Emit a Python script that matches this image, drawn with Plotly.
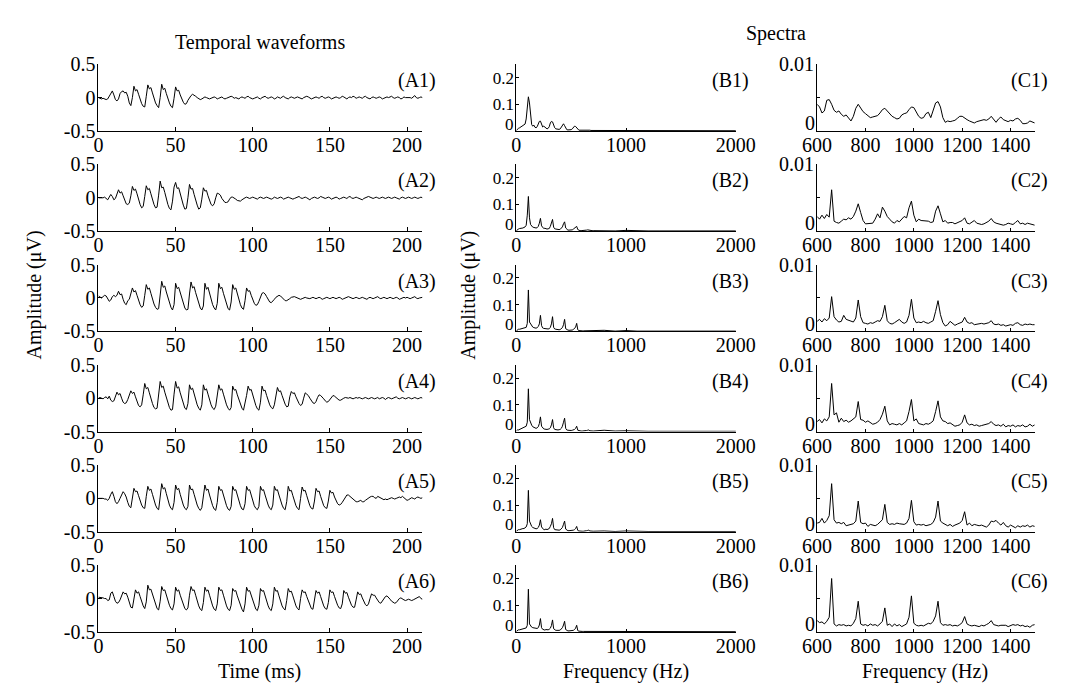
import numpy as np
import plotly.graph_objects as go

# ---------------- data ----------------
SAMPLE_MS = 1.0  # waveform sampling step (ms), t = 0..210

A1 = [0.00, -0.01, -0.02, -0.01, -0.02, -0.03, -0.02, 0.02, 0.08, 0.10,
      0.04, -0.03, -0.05, -0.02, 0.06, 0.09, 0.10, 0.07, 0.08, 0.02,
      -0.08, -0.12, 0.00, 0.17, 0.10, 0.12, 0.05, -0.03, -0.09, -0.13,
      -0.14, 0.02, 0.19, 0.13, 0.15, 0.07, -0.02, -0.08, -0.12, -0.15,
      0.00, 0.20, 0.12, 0.14, 0.06, -0.02, -0.08, -0.13, -0.15, -0.01,
      0.16, 0.10, 0.11, 0.04, -0.02, -0.07, -0.10, -0.09, -0.04, 0.00,
      0.03, 0.05, 0.04, 0.02, 0.00, -0.01, -0.03, -0.02, 0.00, 0.01,
      0.00, -0.01, -0.02, -0.01, 0.00, 0.01, 0.00, -0.02, -0.01, 0.00,
      0.01, -0.01, -0.02, -0.01, 0.00, 0.01, 0.02, 0.01, -0.01, 0.00,
      -0.01, -0.02, 0.00, 0.01, 0.00, -0.01, 0.01, 0.02, 0.00, -0.01,
      -0.02, -0.01, 0.00, 0.01, -0.01, -0.02, 0.00, 0.01, 0.02, 0.00,
      -0.01, 0.00, 0.01, 0.00, -0.02, -0.01, 0.01, 0.00, -0.01, 0.01,
      0.02, 0.00, -0.01, -0.02, 0.00, 0.01, 0.00, -0.01, 0.00, 0.01,
      0.00, -0.01, -0.02, 0.00, 0.01, 0.02, 0.01, -0.01, -0.02, -0.01,
      0.00, 0.01, 0.00, -0.01, 0.01, 0.02, 0.00, -0.01, 0.00, 0.01,
      0.00, -0.02, -0.01, 0.00, 0.01, 0.00, -0.01, 0.00, 0.02, 0.01,
      -0.01, -0.02, 0.00, 0.01, 0.00, 0.02, 0.01, -0.01, 0.00, 0.01,
      0.00, -0.01, 0.01, 0.02, 0.00, -0.01, -0.02, 0.00, 0.01, 0.00,
      -0.01, 0.00, 0.01, 0.00, -0.02, -0.01, 0.00, 0.01, 0.00, 0.01,
      0.02, 0.00, -0.01, 0.00, 0.01, 0.00, -0.02, -0.01, 0.01, 0.00,
      0.00, 0.01, 0.00, -0.01, 0.01, 0.03, 0.00, -0.01, 0.00, 0.01,
      0.00]

A2 = [0.00, 0.00, -0.01, 0.00, 0.01, -0.01, -0.03, 0.01, 0.05, 0.02,
      -0.03, -0.01, 0.06, 0.12, 0.07, 0.09, 0.03, -0.04, -0.09, -0.10,
      -0.08, 0.03, 0.17, 0.11, 0.13, 0.06, -0.03, -0.10, -0.15, -0.13,
      0.02, 0.18, 0.12, 0.14, 0.06, -0.03, -0.10, -0.15, -0.14, 0.04,
      0.25, 0.15, 0.16, 0.08, -0.02, -0.10, -0.16, -0.18, -0.05, 0.16,
      0.23, 0.14, 0.15, 0.06, -0.04, -0.11, -0.17, -0.16, 0.00, 0.20,
      0.13, 0.14, 0.05, -0.04, -0.11, -0.17, -0.15, -0.02, 0.15, 0.10,
      0.11, 0.03, -0.05, -0.10, -0.12, -0.09, 0.00, 0.07, 0.06, 0.04,
      -0.01, -0.05, -0.07, -0.07, -0.06, -0.02, 0.01, 0.01, 0.00, -0.02,
      -0.04, -0.05, -0.05, -0.03, -0.01, 0.00, 0.01, 0.00, -0.01, 0.00,
      0.01, 0.00, -0.01, -0.02, 0.00, 0.01, 0.00, -0.01, 0.00, 0.01,
      0.00, -0.01, -0.02, -0.01, 0.01, 0.00, -0.01, 0.00, 0.01, 0.00,
      -0.02, -0.01, 0.00, 0.01, 0.00, -0.01, -0.02, -0.01, 0.00, 0.01,
      0.02, 0.00, -0.01, 0.00, 0.01, 0.00, -0.02, -0.03, -0.01, 0.00,
      0.01, 0.00, -0.01, 0.00, 0.02, 0.01, 0.00, -0.01, 0.00, 0.01,
      0.00, -0.02, -0.01, 0.00, 0.01, 0.00, -0.02, -0.01, 0.00, 0.01,
      0.00, -0.01, 0.01, 0.02, 0.00, -0.01, 0.00, 0.01, 0.00, -0.01,
      -0.02, -0.03, -0.01, 0.00, 0.01, 0.02, 0.01, 0.00, -0.01, 0.00,
      0.01, 0.00, -0.01, 0.00, 0.01, 0.00, -0.01, 0.00, 0.01, 0.00,
      -0.01, 0.00, 0.01, 0.00, -0.01, -0.02, 0.00, 0.01, 0.00, -0.01,
      0.00, 0.01, 0.00, -0.01, 0.00, 0.01, 0.00, -0.01, 0.00, 0.01,
      0.00]

A3 = [0.03, 0.01, 0.00, 0.02, 0.04, 0.03, -0.02, -0.05, -0.03, 0.02,
      0.04, 0.02, 0.04, 0.10, 0.05, 0.06, -0.02, -0.08, -0.10, -0.04,
      -0.02, 0.06, 0.15, 0.09, 0.11, 0.04, -0.04, -0.10, -0.14, -0.12,
      0.04, 0.20, 0.13, 0.15, 0.07, -0.02, -0.09, -0.14, -0.17, -0.16,
      0.05, 0.25, 0.16, 0.18, 0.09, 0.00, -0.08, -0.14, -0.18, -0.10,
      0.22, 0.14, 0.16, 0.08, -0.01, -0.09, -0.15, -0.18, -0.17, 0.06,
      0.24, 0.15, 0.17, 0.08, -0.01, -0.09, -0.15, -0.18, -0.12, 0.22,
      0.13, 0.16, 0.07, -0.02, -0.10, -0.15, -0.18, -0.08, 0.22, 0.14,
      0.16, 0.07, -0.02, -0.10, -0.16, -0.18, -0.06, 0.20, 0.13, 0.15,
      0.06, -0.03, -0.10, -0.15, -0.17, -0.04, 0.15, 0.10, 0.11, 0.04,
      -0.03, -0.08, -0.11, -0.10, -0.05, 0.02, 0.07, 0.08, 0.06, 0.02,
      -0.03, -0.06, -0.07, -0.05, -0.02, 0.01, 0.03, 0.04, 0.03, 0.01,
      -0.02, -0.04, -0.04, -0.03, -0.01, 0.01, 0.02, 0.02, 0.01, 0.00,
      -0.02, -0.02, -0.01, 0.00, 0.01, 0.00, -0.01, -0.01, 0.00, 0.01,
      0.00, -0.01, 0.00, 0.01, 0.00, -0.02, -0.01, 0.00, 0.01, 0.00,
      -0.01, 0.00, 0.01, 0.00, -0.01, 0.00, 0.01, 0.00, -0.02, -0.01,
      0.00, 0.01, 0.02, 0.01, 0.00, -0.01, 0.00, 0.01, 0.00, -0.01,
      0.00, 0.01, 0.00, -0.01, -0.02, 0.00, 0.01, 0.00, -0.01, 0.00,
      0.01, 0.02, 0.00, -0.01, 0.00, 0.01, 0.00, -0.01, 0.00, 0.01,
      0.00, -0.01, 0.00, 0.01, 0.00, -0.02, -0.01, 0.00, 0.01, 0.00,
      0.01, 0.00, -0.01, 0.00, 0.01, 0.02, 0.00, -0.01, 0.00, 0.01,
      0.01]

A4 = [0.00, 0.01, 0.00, -0.01, 0.01, 0.02, -0.01, 0.03, -0.03, -0.05,
      -0.04, 0.03, 0.09, 0.05, 0.07, 0.00, -0.06, -0.08, -0.07, -0.02,
      0.06, 0.11, 0.07, 0.09, 0.02, -0.05, -0.11, -0.13, -0.10, 0.05,
      0.22, 0.14, 0.16, 0.08, -0.01, -0.08, -0.14, -0.16, -0.15, 0.04,
      0.25, 0.16, 0.18, 0.09, 0.00, -0.08, -0.14, -0.18, -0.17, 0.06,
      0.25, 0.15, 0.17, 0.08, -0.01, -0.09, -0.15, -0.17, -0.08, 0.20,
      0.13, 0.15, 0.06, -0.03, -0.10, -0.15, -0.18, -0.10, 0.20, 0.12,
      0.14, 0.06, -0.03, -0.10, -0.15, -0.17, -0.12, 0.04, 0.20, 0.12,
      0.14, 0.06, -0.03, -0.10, -0.15, -0.18, -0.14, 0.18, 0.12, 0.13,
      0.05, -0.03, -0.10, -0.15, -0.18, -0.09, 0.04, 0.18, 0.12, 0.13,
      0.05, -0.04, -0.11, -0.16, -0.18, -0.06, 0.18, 0.11, 0.12, 0.04,
      -0.04, -0.10, -0.14, -0.16, -0.10, 0.05, 0.16, 0.10, 0.11, 0.04,
      -0.03, -0.09, -0.13, -0.12, 0.02, 0.10, 0.07, 0.08, 0.02, -0.04,
      -0.08, -0.11, -0.09, 0.00, 0.08, 0.06, 0.04, 0.00, -0.04, -0.07,
      -0.08, -0.05, 0.01, 0.05, 0.04, 0.02, -0.01, -0.04, -0.06, -0.05,
      -0.02, 0.02, 0.04, 0.03, 0.01, -0.02, -0.03, -0.03, -0.01, 0.00,
      0.01, 0.00, 0.00, 0.01, 0.00, -0.01, 0.00, 0.01, 0.00, 0.01,
      0.00, -0.01, 0.00, 0.01, 0.00, -0.01, 0.00, 0.01, 0.00, -0.01,
      0.00, 0.01, -0.01, 0.00, 0.01, 0.00, -0.02, 0.00, 0.01, 0.00,
      -0.01, 0.00, 0.01, 0.02, 0.00, -0.01, 0.00, 0.01, 0.00, -0.01,
      0.00, 0.01, 0.00, -0.01, 0.00, 0.01, 0.00, -0.01, 0.00, 0.01,
      0.00]

A5 = [0.00, 0.00, 0.01, 0.00, -0.01, -0.01, -0.03, 0.00, 0.06, 0.10,
      0.03, -0.05, -0.08, -0.05, 0.00, 0.06, 0.10, 0.07, 0.02, -0.06,
      -0.12, -0.14, 0.00, 0.15, 0.10, 0.11, 0.04, -0.04, -0.10, -0.14,
      -0.15, 0.03, 0.18, 0.12, 0.14, 0.06, -0.03, -0.10, -0.15, -0.17,
      0.02, 0.22, 0.14, 0.16, 0.07, -0.02, -0.10, -0.15, -0.17, -0.06,
      0.20, 0.13, 0.15, 0.06, -0.03, -0.10, -0.15, -0.17, -0.12, 0.20,
      0.13, 0.14, 0.06, -0.03, -0.10, -0.15, -0.18, -0.14, 0.05, 0.20,
      0.12, 0.14, 0.05, -0.04, -0.11, -0.16, -0.18, -0.06, 0.18, 0.12,
      0.13, 0.05, -0.04, -0.11, -0.16, -0.18, -0.12, 0.18, 0.12, 0.13,
      0.05, -0.04, -0.11, -0.16, -0.17, -0.08, 0.18, 0.12, 0.13, 0.05,
      -0.04, -0.11, -0.15, -0.17, -0.12, 0.18, 0.12, 0.13, 0.05, -0.04,
      -0.10, -0.15, -0.17, -0.10, 0.18, 0.12, 0.13, 0.05, -0.04, -0.10,
      -0.15, -0.17, -0.05, 0.18, 0.11, 0.12, 0.04, -0.04, -0.11, -0.15,
      -0.17, 0.00, 0.17, 0.11, 0.12, 0.04, -0.04, -0.11, -0.15, -0.16,
      -0.04, 0.15, 0.10, 0.11, 0.03, -0.05, -0.11, -0.14, -0.15, -0.04,
      0.12, 0.08, 0.09, 0.02, -0.04, -0.08, -0.10, -0.09, -0.06, -0.02,
      0.02, 0.05, 0.05, 0.03, 0.00, -0.02, -0.04, -0.05, -0.05, -0.04,
      -0.03, -0.05, -0.05, -0.03, -0.01, 0.01, 0.02, 0.03, 0.03, 0.01,
      0.00, 0.03, 0.02, 0.00, -0.01, -0.02, -0.01, -0.02, -0.01, 0.00,
      0.01, 0.00, -0.01, 0.00, 0.01, 0.02, 0.01, 0.03, 0.01, -0.01,
      -0.03, -0.02, 0.00, 0.01, 0.00, -0.01, 0.01, 0.02, 0.01, 0.00,
      0.01]

A6 = [0.02, 0.02, 0.01, 0.01, 0.00, 0.00, -0.03, -0.02, 0.08, 0.10,
      0.03, -0.04, -0.07, -0.06, -0.02, 0.05, 0.10, 0.07, 0.08, 0.02,
      -0.06, -0.13, -0.14, 0.00, 0.13, 0.08, 0.10, 0.03, -0.05, -0.11,
      -0.15, -0.05, 0.20, 0.13, 0.14, 0.06, -0.03, -0.10, -0.15, -0.17,
      -0.04, 0.18, 0.12, 0.13, 0.05, -0.03, -0.10, -0.15, -0.17, -0.08,
      0.17, 0.11, 0.13, 0.05, -0.03, -0.10, -0.15, -0.17, -0.14, 0.05,
      0.18, 0.12, 0.13, 0.05, -0.04, -0.11, -0.16, -0.18, -0.06, 0.17,
      0.11, 0.13, 0.05, -0.04, -0.11, -0.16, -0.18, -0.08, 0.17, 0.12,
      0.13, 0.05, -0.04, -0.11, -0.16, -0.18, -0.10, 0.15, 0.11, 0.12,
      0.04, -0.04, -0.11, -0.16, -0.20, -0.08, 0.17, 0.11, 0.12, 0.04,
      -0.04, -0.11, -0.16, -0.18, -0.10, 0.15, 0.11, 0.12, 0.04, -0.04,
      -0.11, -0.16, -0.18, -0.08, 0.17, 0.11, 0.12, 0.04, -0.04, -0.11,
      -0.15, -0.17, -0.03, 0.15, 0.10, 0.11, 0.04, -0.04, -0.11, -0.15,
      -0.17, 0.00, 0.13, 0.09, 0.10, 0.03, -0.04, -0.11, -0.15, -0.16,
      -0.04, 0.12, 0.08, 0.10, 0.03, -0.05, -0.11, -0.15, -0.16, -0.06,
      0.13, 0.09, 0.10, 0.03, -0.05, -0.10, -0.14, -0.15, -0.08, 0.12,
      0.08, 0.09, 0.02, -0.05, -0.10, -0.13, -0.13, -0.02, 0.10, 0.06,
      0.07, 0.01, -0.05, -0.09, -0.11, -0.08, 0.00, 0.07, 0.05, 0.05,
      0.01, -0.03, -0.06, -0.07, -0.04, 0.00, 0.03, 0.04, 0.02, -0.01,
      -0.04, -0.06, -0.07, -0.06, -0.03, 0.00, 0.01, -0.01, -0.02, -0.03,
      -0.02, -0.01, -0.02, -0.03, -0.02, -0.01, 0.00, 0.02, 0.03, 0.00,
      -0.01]

# Spectra B: 0..690 Hz every 10 Hz, then 700..2000 Hz every 100 Hz
B_FREQ = list(range(0, 700, 10)) + list(range(700, 2001, 100))

B1 = [0.002, 0.008, 0.010, 0.012, 0.015, 0.018, 0.020, 0.022, 0.026, 0.045,
      0.100, 0.128, 0.105, 0.055, 0.024, 0.018, 0.022, 0.014, 0.012, 0.016,
      0.026, 0.036, 0.037, 0.028, 0.015, 0.018, 0.014, 0.010, 0.008, 0.010,
      0.016, 0.030, 0.036, 0.034, 0.022, 0.012, 0.008, 0.007, 0.006, 0.006,
      0.008, 0.014, 0.024, 0.027, 0.020, 0.010, 0.005, 0.004, 0.004, 0.004,
      0.005, 0.008, 0.014, 0.018, 0.017, 0.011, 0.005, 0.003, 0.003, 0.003,
      0.003, 0.004, 0.004, 0.005, 0.004, 0.003, 0.003, 0.003, 0.002, 0.002,
      0.002, 0.002, 0.001, 0.001, 0.001, 0.001, 0.001, 0.001, 0.001, 0.001, 0.001, 0.001, 0.001, 0.001]

B2 = [0.002, 0.006, 0.008, 0.010, 0.010, 0.012, 0.012, 0.014, 0.016, 0.022,
      0.060, 0.130, 0.050, 0.025, 0.018, 0.015, 0.014, 0.012, 0.012, 0.013,
      0.018, 0.030, 0.048, 0.020, 0.012, 0.010, 0.011, 0.009, 0.008, 0.009,
      0.010, 0.018, 0.030, 0.044, 0.015, 0.009, 0.008, 0.007, 0.006, 0.006,
      0.007, 0.010, 0.016, 0.028, 0.035, 0.012, 0.006, 0.004, 0.004, 0.004,
      0.004, 0.005, 0.008, 0.012, 0.015, 0.018, 0.006, 0.003, 0.002, 0.002,
      0.002, 0.002, 0.003, 0.003, 0.004, 0.005, 0.004, 0.002, 0.002, 0.002,
      0.002, 0.001, 0.001, 0.003, 0.001, 0.001, 0.001, 0.001, 0.001, 0.001, 0.001, 0.001, 0.001, 0.001]

B3 = [0.002, 0.006, 0.008, 0.008, 0.009, 0.010, 0.010, 0.012, 0.012, 0.015,
      0.030, 0.155, 0.035, 0.028, 0.020, 0.016, 0.014, 0.012, 0.012, 0.014,
      0.018, 0.028, 0.060, 0.022, 0.013, 0.011, 0.010, 0.009, 0.008, 0.009,
      0.010, 0.015, 0.028, 0.055, 0.015, 0.009, 0.008, 0.007, 0.006, 0.006,
      0.007, 0.009, 0.014, 0.025, 0.045, 0.010, 0.006, 0.005, 0.004, 0.004,
      0.004, 0.005, 0.007, 0.010, 0.016, 0.030, 0.006, 0.003, 0.002, 0.002,
      0.002, 0.002, 0.002, 0.002, 0.003, 0.003, 0.003, 0.002, 0.002, 0.002,
      0.002, 0.004, 0.001, 0.003, 0.001, 0.001, 0.001, 0.001, 0.001, 0.001, 0.001, 0.001, 0.001, 0.001]

B4 = [0.002, 0.006, 0.006, 0.008, 0.010, 0.012, 0.012, 0.014, 0.016, 0.020,
      0.035, 0.160, 0.045, 0.032, 0.024, 0.018, 0.015, 0.013, 0.012, 0.014,
      0.018, 0.030, 0.055, 0.020, 0.012, 0.010, 0.009, 0.008, 0.008, 0.009,
      0.010, 0.014, 0.025, 0.045, 0.014, 0.008, 0.007, 0.006, 0.006, 0.007,
      0.008, 0.012, 0.020, 0.035, 0.050, 0.012, 0.006, 0.005, 0.004, 0.004,
      0.004, 0.005, 0.006, 0.008, 0.012, 0.020, 0.005, 0.003, 0.002, 0.002,
      0.002, 0.002, 0.002, 0.003, 0.004, 0.005, 0.006, 0.003, 0.002, 0.002,
      0.002, 0.005, 0.002, 0.003, 0.001, 0.001, 0.001, 0.001, 0.001, 0.001, 0.001, 0.001, 0.001, 0.001]

B5 = [0.002, 0.006, 0.008, 0.008, 0.010, 0.010, 0.012, 0.012, 0.014, 0.018,
      0.030, 0.155, 0.040, 0.026, 0.020, 0.016, 0.014, 0.012, 0.011, 0.012,
      0.016, 0.025, 0.045, 0.018, 0.010, 0.008, 0.008, 0.010, 0.008, 0.009,
      0.012, 0.020, 0.030, 0.050, 0.015, 0.008, 0.007, 0.006, 0.006, 0.006,
      0.007, 0.010, 0.016, 0.028, 0.040, 0.010, 0.005, 0.004, 0.004, 0.004,
      0.004, 0.005, 0.006, 0.008, 0.012, 0.020, 0.005, 0.003, 0.002, 0.002,
      0.002, 0.002, 0.002, 0.003, 0.004, 0.005, 0.006, 0.003, 0.002, 0.002,
      0.002, 0.003, 0.001, 0.003, 0.001, 0.001, 0.001, 0.001, 0.001, 0.001, 0.001, 0.001, 0.001, 0.001]

B6 = [0.002, 0.006, 0.008, 0.008, 0.009, 0.010, 0.010, 0.012, 0.012, 0.015,
      0.025, 0.160, 0.030, 0.022, 0.018, 0.016, 0.015, 0.013, 0.012, 0.013,
      0.016, 0.026, 0.050, 0.016, 0.010, 0.008, 0.007, 0.009, 0.008, 0.008,
      0.010, 0.014, 0.024, 0.045, 0.012, 0.007, 0.006, 0.006, 0.005, 0.006,
      0.007, 0.010, 0.016, 0.026, 0.040, 0.009, 0.005, 0.004, 0.004, 0.004,
      0.004, 0.005, 0.006, 0.009, 0.014, 0.025, 0.005, 0.003, 0.002, 0.002,
      0.002, 0.002, 0.002, 0.002, 0.003, 0.003, 0.003, 0.002, 0.002, 0.002,
      0.002, 0.002, 0.001, 0.003, 0.001, 0.001, 0.001, 0.001, 0.001, 0.001, 0.001, 0.001, 0.001, 0.001]

# Spectra C (zoom): 600..1500 Hz every 10 Hz
C_FREQ = list(range(600, 1501, 10))

C1 = [0.0040, 0.0036, 0.0027, 0.0030, 0.0046, 0.0047, 0.0040, 0.0031, 0.0028, 0.0030,
      0.0025, 0.0022, 0.0024, 0.0019, 0.0015, 0.0022, 0.0034, 0.0040, 0.0034, 0.0029,
      0.0026, 0.0023, 0.0020, 0.0021, 0.0022, 0.0023, 0.0027, 0.0032, 0.0034, 0.0030,
      0.0025, 0.0022, 0.0020, 0.0018, 0.0019, 0.0024, 0.0026, 0.0027, 0.0032, 0.0036,
      0.0035, 0.0028, 0.0022, 0.0019, 0.0020, 0.0026, 0.0028, 0.0020, 0.0030, 0.0042,
      0.0044, 0.0036, 0.0020, 0.0013, 0.0015, 0.0014, 0.0015, 0.0016, 0.0019, 0.0022,
      0.0022, 0.0019, 0.0017, 0.0015, 0.0013, 0.0012, 0.0014, 0.0015, 0.0016, 0.0017,
      0.0016, 0.0018, 0.0022, 0.0017, 0.0013, 0.0018, 0.0021, 0.0017, 0.0015, 0.0014,
      0.0016, 0.0015, 0.0018, 0.0019, 0.0016, 0.0011, 0.0011, 0.0012, 0.0015, 0.0013,
      0.0012]

C2 = [0.0022, 0.0018, 0.0024, 0.0019, 0.0025, 0.0021, 0.0062, 0.0015, 0.0013, 0.0012,
      0.0015, 0.0018, 0.0017, 0.0020, 0.0018, 0.0022, 0.0030, 0.0041, 0.0028, 0.0016,
      0.0011, 0.0011, 0.0012, 0.0012, 0.0018, 0.0026, 0.0020, 0.0036, 0.0030, 0.0022,
      0.0018, 0.0014, 0.0012, 0.0016, 0.0014, 0.0018, 0.0022, 0.0020, 0.0035, 0.0045,
      0.0024, 0.0014, 0.0018, 0.0016, 0.0016, 0.0015, 0.0015, 0.0013, 0.0014, 0.0030,
      0.0038, 0.0026, 0.0014, 0.0016, 0.0012, 0.0013, 0.0013, 0.0011, 0.0013, 0.0014,
      0.0016, 0.0020, 0.0012, 0.0011, 0.0013, 0.0016, 0.0012, 0.0011, 0.0010, 0.0011,
      0.0013, 0.0015, 0.0019, 0.0014, 0.0012, 0.0011, 0.0010, 0.0009, 0.0010, 0.0012,
      0.0011, 0.0010, 0.0013, 0.0016, 0.0011, 0.0012, 0.0010, 0.0012, 0.0011, 0.0010,
      0.0009]

C3 = [0.0015, 0.0018, 0.0014, 0.0019, 0.0016, 0.0020, 0.0052, 0.0022, 0.0017, 0.0014,
      0.0015, 0.0024, 0.0018, 0.0017, 0.0016, 0.0014, 0.0020, 0.0047, 0.0022, 0.0013,
      0.0012, 0.0011, 0.0013, 0.0012, 0.0014, 0.0016, 0.0015, 0.0022, 0.0039, 0.0016,
      0.0012, 0.0011, 0.0013, 0.0015, 0.0018, 0.0014, 0.0012, 0.0014, 0.0024, 0.0048,
      0.0020, 0.0013, 0.0014, 0.0013, 0.0015, 0.0013, 0.0012, 0.0014, 0.0016, 0.0030,
      0.0046, 0.0025, 0.0013, 0.0008, 0.0010, 0.0015, 0.0012, 0.0009, 0.0011, 0.0012,
      0.0014, 0.0021, 0.0014, 0.0012, 0.0013, 0.0010, 0.0011, 0.0012, 0.0012, 0.0011,
      0.0012, 0.0013, 0.0016, 0.0011, 0.0010, 0.0011, 0.0009, 0.0010, 0.0008, 0.0009,
      0.0010, 0.0009, 0.0012, 0.0013, 0.0010, 0.0009, 0.0011, 0.0010, 0.0011, 0.0010,
      0.0010]

C4 = [0.0015, 0.0018, 0.0013, 0.0019, 0.0016, 0.0022, 0.0072, 0.0025, 0.0028, 0.0014,
      0.0020, 0.0015, 0.0017, 0.0014, 0.0016, 0.0019, 0.0022, 0.0045, 0.0018, 0.0017,
      0.0014, 0.0016, 0.0013, 0.0011, 0.0012, 0.0014, 0.0018, 0.0026, 0.0038, 0.0016,
      0.0010, 0.0012, 0.0011, 0.0010, 0.0012, 0.0010, 0.0013, 0.0016, 0.0030, 0.0048,
      0.0016, 0.0019, 0.0012, 0.0011, 0.0010, 0.0012, 0.0011, 0.0013, 0.0016, 0.0030,
      0.0046, 0.0022, 0.0016, 0.0015, 0.0012, 0.0013, 0.0010, 0.0008, 0.0009, 0.0010,
      0.0014, 0.0025, 0.0013, 0.0010, 0.0011, 0.0009, 0.0010, 0.0008, 0.0009, 0.0010,
      0.0011, 0.0012, 0.0015, 0.0011, 0.0009, 0.0010, 0.0008, 0.0011, 0.0007, 0.0009,
      0.0008, 0.0010, 0.0007, 0.0009, 0.0008, 0.0010, 0.0007, 0.0008, 0.0011, 0.0008,
      0.0010]

C5 = [0.0013, 0.0014, 0.0020, 0.0013, 0.0017, 0.0024, 0.0072, 0.0018, 0.0013, 0.0014,
      0.0012, 0.0014, 0.0009, 0.0010, 0.0011, 0.0012, 0.0016, 0.0046, 0.0014, 0.0012,
      0.0013, 0.0008, 0.0011, 0.0010, 0.0009, 0.0011, 0.0014, 0.0018, 0.0041, 0.0014,
      0.0011, 0.0012, 0.0011, 0.0013, 0.0012, 0.0012, 0.0011, 0.0013, 0.0020, 0.0047,
      0.0015, 0.0010, 0.0011, 0.0010, 0.0011, 0.0009, 0.0010, 0.0011, 0.0014, 0.0022,
      0.0046, 0.0016, 0.0013, 0.0011, 0.0009, 0.0011, 0.0008, 0.0010, 0.0011, 0.0013,
      0.0017, 0.0030, 0.0010, 0.0013, 0.0009, 0.0011, 0.0010, 0.0009, 0.0010, 0.0009,
      0.0007, 0.0010, 0.0016, 0.0015, 0.0017, 0.0013, 0.0010, 0.0014, 0.0009, 0.0007,
      0.0010, 0.0008, 0.0006, 0.0009, 0.0007, 0.0009, 0.0008, 0.0010, 0.0007, 0.0009,
      0.0008]

C6 = [0.0017, 0.0014, 0.0015, 0.0012, 0.0016, 0.0022, 0.0080, 0.0012, 0.0009, 0.0011,
      0.0010, 0.0011, 0.0009, 0.0010, 0.0009, 0.0013, 0.0020, 0.0046, 0.0012, 0.0010,
      0.0011, 0.0009, 0.0012, 0.0010, 0.0011, 0.0009, 0.0012, 0.0016, 0.0036, 0.0010,
      0.0012, 0.0008, 0.0012, 0.0009, 0.0011, 0.0008, 0.0010, 0.0012, 0.0022, 0.0054,
      0.0013, 0.0010, 0.0009, 0.0010, 0.0009, 0.0011, 0.0013, 0.0012, 0.0016, 0.0024,
      0.0046, 0.0014, 0.0010, 0.0011, 0.0010, 0.0011, 0.0009, 0.0010, 0.0009, 0.0011,
      0.0014, 0.0023, 0.0012, 0.0010, 0.0009, 0.0010, 0.0009, 0.0008, 0.0010, 0.0009,
      0.0011, 0.0013, 0.0017, 0.0011, 0.0010, 0.0009, 0.0010, 0.0010, 0.0010, 0.0008,
      0.0009, 0.0011, 0.0010, 0.0011, 0.0009, 0.0010, 0.0008, 0.0009, 0.0007, 0.0010,
      0.0011]

WAVES = [A1, A2, A3, A4, A5, A6]
SPEC_B = [B1, B2, B3, B4, B5, B6]
SPEC_C = [C1, C2, C3, C4, C5, C6]

A_TICKS = [0, 50, 100, 150, 200]
B_TICKS = [0, 1000, 2000]
C_TICKS = [600, 800, 1000, 1200, 1400]

# ---------------- layout geometry (pixels) ----------------
W, H = 1069, 688
FONT = "Liberation Serif, Times New Roman, serif"
FS = 20
FS_B_Y = 17   # slightly smaller labels on the tightly-spaced spectra y axes
COLS = {"A": (78, 413), "B": (510, 737), "C": (821, 1046)}
ROW_TOP0, ROW_STEP, ROW_H = 46.7, 103.5, 69


def xdom(col):
    a, b = COLS[col]
    return [a / W, b / W]


def ydom(i):
    top = ROW_TOP0 + ROW_STEP * i
    return [1 - (top + ROW_H) / H, 1 - top / H]


fig = go.Figure()
layout = dict(width=W, height=H, margin=dict(l=0, r=0, t=0, b=0),
              paper_bgcolor="white", plot_bgcolor="white", showlegend=False,
              font=dict(family=FONT, size=FS, color="black"))

axcommon = dict(showline=True, linecolor="black", linewidth=1, mirror=False,
                ticks="inside", tickcolor="black", tickwidth=1,
                showgrid=False, zeroline=False,
                tickfont=dict(family=FONT, size=FS, color="black"))

annotations = []
for i in range(6):
    top = ROW_TOP0 + ROW_STEP * i
    bottom = top + ROW_H
    for j, col in enumerate("ABC"):
        n = 3 * i + j + 1
        xs = "x" if n == 1 else f"x{n}"
        ys = "y" if n == 1 else f"y{n}"
        yfs = FS
        if col == "A":
            y = WAVES[i]
            x = [k * SAMPLE_MS for k in range(len(y))]
            xr, yr = [0, 210], [-0.5, 0.5]
            xt, xtt = A_TICKS, [str(v) for v in A_TICKS]
            yt, ytt = [-0.5, 0, 0.5], ["-0.5", "0", "0.5"]
            tl = 4
        elif col == "B":
            y = SPEC_B[i]
            x = B_FREQ[:len(y)]
            xr, yr = [0, 2000], [0, 0.25]
            xt, xtt = B_TICKS, [str(v) for v in B_TICKS]
            yt, ytt = [0, 0.1, 0.2], ["", "0.1", "0.2"]
            tl = 3
            yfs = FS_B_Y
        else:
            y = SPEC_C[i]
            x = C_FREQ[:len(y)]
            xr, yr = [600, 1500], [0, 0.01]
            xt, xtt = C_TICKS, [str(v) for v in C_TICKS]
            yt, ytt = [0, 0.005, 0.01], ["", "", "0.01"]
            tl = 3
        fig.add_trace(go.Scatter(x=x, y=y[:len(x)], mode="lines",
                                 line=dict(color="black", width=1),
                                 xaxis=xs, yaxis=ys, hoverinfo="skip"))
        kx = "xaxis" if n == 1 else f"xaxis{n}"
        ky = "yaxis" if n == 1 else f"yaxis{n}"
        layout[kx] = dict(axcommon, domain=xdom(col), anchor=ys, range=xr,
                          tickmode="array", tickvals=xt, ticktext=xtt, ticklen=tl,
                          ticklabelstandoff=-4)
        layout[ky] = dict(axcommon, domain=ydom(i), anchor=xs, range=yr,
                          tickmode="array", tickvals=yt, ticktext=ytt, ticklen=tl,
                          ticklabelstandoff=-2,
                          tickfont=dict(family=FONT, size=yfs, color="black"))
        # the "0" of the spectra y axes sits just above the x tick labels
        if col in "BC":
            zc = 7 if col == "B" else 8
            annotations.append(dict(text="0", xref="paper", yref="paper",
                                    x=(COLS[col][0] - 1) / W, y=1 - (bottom - zc) / H,
                                    xanchor="right", yanchor="middle", showarrow=False,
                                    borderpad=0,
                                    font=dict(family=FONT, size=yfs, color="black")))
        # panel label
        annotations.append(dict(text=f"({col}{i + 1})", xref="paper", yref="paper",
                                x=(COLS[col][1] + 16) / W, y=1 - (top + 17) / H,
                                xanchor="right", yanchor="middle", showarrow=False,
                                font=dict(family=FONT, size=FS, color="black")))


def txt(s, xp, yp, angle=0):
    annotations.append(dict(text=s, xref="paper", yref="paper", x=xp / W, y=1 - yp / H,
                            xanchor="center", yanchor="middle", showarrow=False,
                            textangle=angle, font=dict(family=FONT, size=FS, color="black")))


txt("Temporal waveforms", 245, 24)
txt("Spectra", 779, 15)
txt("Time (ms)", 245, 674)
txt("Frequency (Hz)", 623, 674)
txt("Frequency (Hz)", 933, 674)
txt("Amplitude (μV)", 12, 285, -90)
txt("Amplitude (μV)", 461, 285, -90)

layout["annotations"] = annotations
fig.update_layout(**layout)
fig.write_html("out.html")
